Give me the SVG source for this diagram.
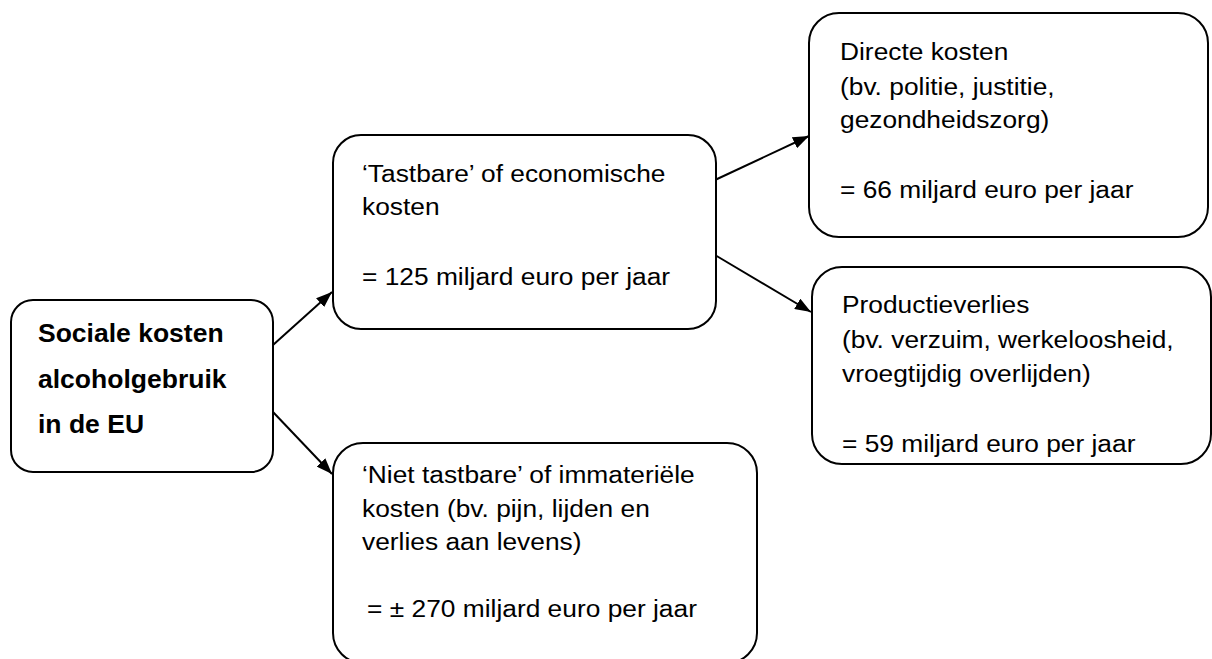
<svg xmlns="http://www.w3.org/2000/svg" width="1212" height="659" viewBox="0 0 1212 659">
  <style>
    .box { fill: #ffffff; stroke: #000000; stroke-width: 2; }
    .t { font-family: "Liberation Sans", Arial, sans-serif; font-size: 23.3px; fill: #000000; }
    .b { font-family: "Liberation Sans", Arial, sans-serif; font-size: 26.5px; font-weight: bold; fill: #000000; }
    .conn { stroke: #000000; stroke-width: 2; fill: none; marker-end: url(#arr); }
  </style>
  <defs>
    <marker id="arr" viewBox="0 0 16 12" refX="16" refY="6" markerWidth="8" markerHeight="6" markerUnits="strokeWidth" orient="auto">
      <path d="M0,0 L16,6 L0,12 Z" fill="#000000"/>
    </marker>
  </defs>
  <rect width="1212" height="659" fill="#ffffff"/>

  <g id="connectors">
    <line class="conn" x1="273" y1="345" x2="332" y2="292"/>
    <line class="conn" x1="273" y1="412" x2="332" y2="474"/>
    <line class="conn" x1="715" y1="180" x2="809" y2="136"/>
    <line class="conn" x1="715" y1="255" x2="811" y2="312"/>
  </g>

  <g id="node-sociale">
    <rect class="box" x="11" y="300" width="262" height="172" rx="22" ry="22"/>
    <text class="b"><tspan x="38" y="342">Sociale kosten</tspan><tspan x="38" y="388">alcoholgebruik</tspan><tspan x="38" y="433">in de EU</tspan></text>
  </g>

  <g id="node-tastbare">
    <rect class="box" x="333" y="135" width="383" height="194" rx="28" ry="28"/>
    <text class="t" transform="translate(362,0) scale(1.13,1)"><tspan x="0" y="182">‘Tastbare’ of economische</tspan><tspan x="0" y="215">kosten</tspan><tspan x="0" y="285">= 125 miljard euro per jaar</tspan></text>
  </g>

  <g id="node-directe">
    <rect class="box" x="809" y="13" width="399" height="224" rx="30" ry="30"/>
    <text class="t" transform="translate(840,0) scale(1.13,1)"><tspan x="0" y="60">Directe kosten</tspan><tspan x="0" y="95">(bv. politie, justitie,</tspan><tspan x="0" y="128">gezondheidszorg)</tspan><tspan x="0" y="198">= 66 miljard euro per jaar</tspan></text>
  </g>

  <g id="node-productie">
    <rect class="box" x="812" y="267" width="399" height="197" rx="30" ry="30"/>
    <text class="t" transform="translate(842,0) scale(1.13,1)"><tspan x="0" y="313">Productieverlies</tspan><tspan x="0" y="348">(bv. verzuim, werkeloosheid,</tspan><tspan x="0" y="382">vroegtijdig overlijden)</tspan><tspan x="0" y="452">= 59 miljard euro per jaar</tspan></text>
  </g>

  <g id="node-niet-tastbare">
    <rect class="box" x="333" y="443" width="424" height="220" rx="30" ry="30"/>
    <text class="t" transform="translate(362,0) scale(1.13,1)"><tspan x="0" y="483">‘Niet tastbare’ of immateriële</tspan><tspan x="0" y="517">kosten (bv. pijn, lijden en</tspan><tspan x="0" y="550">verlies aan levens)</tspan><tspan x="4.5" y="617">= ± 270 miljard euro per jaar</tspan></text>
  </g>
</svg>
